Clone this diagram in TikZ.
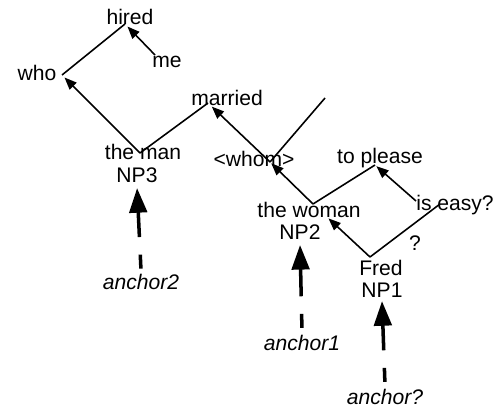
\documentclass[tikz,border=0pt]{standalone}
\usepackage{fontspec}
\setmainfont{Liberation Sans}
\usetikzlibrary{arrows.meta}
\tikzset{
  word/.style={inner sep=2pt, font=\fontsize{12}{14}\selectfont},
  anchorword/.style={inner sep=2pt, font=\fontsize{12}{14}\selectfont\itshape},
  link/.style={line width=0.9pt},
  dep/.style={-{Triangle[length=7pt,width=5.5pt]}, line width=0.9pt},
  anchorarrow/.style={-{Triangle[length=14pt,width=10pt]}, line width=2pt, dash pattern=on 8pt off 10pt on 100pt},
}

\begin{document}
\begin{tikzpicture}
    \useasboundingbox (0,0) rectangle (10,8.16);
    % words
    \node[word] (hired) at (2.60,7.82) {hired};
    \node[word] (me) at (3.34,6.92) {me};
    \node[word] (who) at (0.74,6.70) {who};
    \node[word] (married) at (4.54,6.20) {married};
    \node[word] (theman) at (2.86,5.12) {the man};
    \node[word] (np3) at (2.74,4.66) {NP3};
    \node[word] (whom) at (5.08,4.98) {<whom>};
    \node[word] (toplease) at (7.60,5.00) {to please};
    \node[word] (thewoman) at (6.18,3.96) {the woman};
    \node[word] (np2) at (6.00,3.52) {NP2};
    \node[word] (iseasy) at (9.10,4.06) {is easy?};
    \node[word] (qmark) at (8.30,3.30) {?};
    \node[word] (fred) at (7.62,2.80) {Fred};
    \node[word] (np1) at (7.64,2.36) {NP1};
    \node[anchorword] (anc2) at (2.82,2.52) {anchor2};
    \node[anchorword] (anc1) at (6.04,1.30) {anchor1};
    \node[anchorword] (ancq) at (7.70,0.22) {anchor?};
    % tree points
    \coordinate (pHired) at (2.50,7.68);
    \coordinate (pWho) at (1.24,6.66);
    \coordinate (pMe) at (3.10,7.06);
    \coordinate (pMan) at (2.80,5.10);
    \coordinate (pMarried) at (4.16,6.10);
    \coordinate (pWhom) at (5.40,4.92);
    \coordinate (pFree) at (6.50,6.20);
    \coordinate (pWoman) at (6.26,4.08);
    \coordinate (pPlease) at (7.50,4.86);
    \coordinate (pEasy) at (8.32,4.14);
    \coordinate (pEasyEnd) at (8.80,4.08);
    \coordinate (pFred) at (7.40,3.02);
    % links and arrows
    \draw[link] (pWho) -- (pHired);
    \draw[dep, shorten >=2pt] (pMe) -- (pHired);
    \draw[dep, shorten >=2pt] (pMan) -- (pWho);
    \draw[link] (pMan) -- (pMarried);
    \draw[dep, shorten >=3pt] (pWhom) -- (pMarried);
    \draw[link] (pWhom) -- (pFree);
    \draw[dep, shorten >=1pt] (pWoman) -- (pWhom);
    \draw[link] (pWoman) -- (pPlease);
    \draw[dep, shorten >=1pt] (pEasy) -- (pPlease);
    \draw[dep, shorten >=12pt] (pFred) -- (pWoman);
    \draw[link] (pFred) -- (pEasyEnd);
    % anchors
    \draw[anchorarrow, shorten <=1pt, shorten >=1pt] (anc2.north) -- (np3.south);
    \draw[anchorarrow, shorten <=2pt, shorten >=1pt] (anc1.north) -- (np2.south);
    \draw[anchorarrow, shorten <=2pt] (ancq.north) -- (np1.south);
  \end{tikzpicture}
\end{document}
